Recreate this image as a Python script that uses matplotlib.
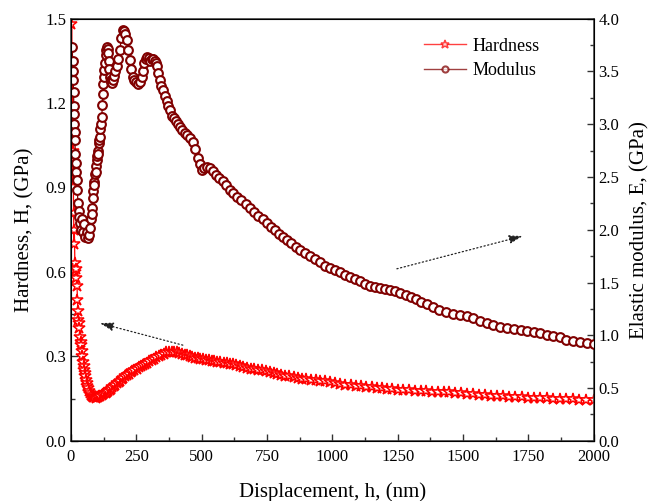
import matplotlib
matplotlib.use("Agg")
import matplotlib.pyplot as plt
from matplotlib.ticker import MultipleLocator

plt.rcParams['font.family'] = ['Liberation Serif', 'DejaVu Serif']

# ---------------- data ----------------
h_H = [1, 2, 3, 4, 5, 6, 7, 8, 9, 10, 12, 13, 15, 17, 19, 21, 23, 25, 27, 28, 30, 32,
       35, 38, 40, 42, 44, 46, 48, 50, 52, 54, 57, 60, 63, 66, 70, 74, 78, 82, 86, 90, 94,
       98, 103, 108, 113, 118, 123, 128, 133, 138, 143, 148, 153, 158, 164, 170, 176, 182,
       188, 194, 200, 207, 214, 221, 228, 235, 243, 251, 259, 267, 275, 283, 291, 300, 309,
       318, 327, 336, 345, 355, 365, 375, 385, 395, 405, 415, 425, 435, 445, 455, 465, 475,
       485, 495, 505, 516, 527, 538, 549, 560, 572, 584, 596, 608, 620, 633, 646, 660, 674,
       688, 702, 716, 730, 745, 760, 775, 790, 805, 820, 836, 852, 868, 884, 900, 918, 936,
       954, 972, 990, 1010, 1030, 1050, 1070, 1090, 1110, 1130, 1150, 1170, 1190, 1210, 1230,
       1250, 1272, 1294, 1316, 1338, 1360, 1382, 1404, 1426, 1448, 1470, 1492, 1515, 1538,
       1561, 1584, 1607, 1630, 1653, 1676, 1700, 1724, 1748, 1772, 1796, 1820, 1845, 1870,
       1895, 1920, 1945, 1972, 2000]
H = [2.00, 1.48, 1.60, 1.19, 1.35, 1.03, 1.10, 0.90, 0.95, 0.81, 0.70, 0.75, 0.63, 0.60,
     0.61, 0.58, 0.55, 0.50, 0.46, 0.43, 0.42, 0.40, 0.37, 0.35, 0.34, 0.32, 0.30, 0.28,
     0.265, 0.25, 0.24, 0.23, 0.215, 0.205, 0.195, 0.187, 0.178, 0.170, 0.164, 0.160, 0.157,
     0.155, 0.153, 0.155, 0.156, 0.158, 0.161, 0.164, 0.166, 0.169, 0.171, 0.173, 0.177,
     0.181, 0.185, 0.190, 0.195, 0.200, 0.205, 0.210, 0.214, 0.219, 0.223, 0.229, 0.234,
     0.238, 0.243, 0.247, 0.252, 0.257, 0.261, 0.265, 0.269, 0.272, 0.276, 0.282, 0.287,
     0.292, 0.297, 0.301, 0.305, 0.310, 0.314, 0.315, 0.316, 0.316, 0.315, 0.312, 0.309,
     0.306, 0.304, 0.301, 0.298, 0.296, 0.294, 0.292, 0.291, 0.289, 0.287, 0.285, 0.283,
     0.281, 0.279, 0.277, 0.276, 0.274, 0.272, 0.269, 0.266, 0.263, 0.260, 0.257, 0.255,
     0.252, 0.250, 0.247, 0.244, 0.241, 0.238, 0.235, 0.232, 0.229, 0.226, 0.223, 0.221,
     0.219, 0.217, 0.215, 0.213, 0.211, 0.209, 0.206, 0.203, 0.200, 0.198, 0.196, 0.194,
     0.192, 0.190, 0.188, 0.187, 0.185, 0.183, 0.181, 0.180, 0.179, 0.178, 0.177, 0.176,
     0.175, 0.174, 0.173, 0.172, 0.171, 0.170, 0.168, 0.166, 0.164, 0.162, 0.161, 0.160,
     0.158, 0.157, 0.156, 0.155, 0.154, 0.153, 0.152, 0.151, 0.150, 0.149, 0.148, 0.147,
     0.146, 0.145, 0.144]

h_E = [5, 6, 7, 8, 10, 11, 12, 13, 14, 15, 17, 18, 20, 22, 24, 27, 30, 32, 35, 38,
       42, 45, 50, 55, 60, 65, 68, 72, 76, 80, 82, 84, 86, 88, 90, 92, 95, 97, 99, 101, 103,
       105, 107, 109, 111, 113, 115, 118, 120, 122, 124, 126, 128, 130, 133, 135, 138, 141,
       143, 145, 147, 149, 152, 155, 158, 161, 165, 170, 176, 181, 187, 193, 199, 203, 208,
       214, 220, 226, 231, 237, 243, 250, 257, 264, 270, 275, 280, 286, 291, 297, 303, 309,
       314, 320, 325, 329, 334, 340, 346, 352, 359, 366, 372, 379, 386, 393, 400, 408, 417,
       426, 435, 445, 456, 467, 476, 486, 494, 501, 510, 520, 531, 543, 555, 568, 581, 594,
       607, 620, 636, 652, 668, 684, 700, 717, 733, 750, 765, 780, 796, 811, 827, 843, 860,
       876, 895, 914, 933, 952, 971, 990, 1010, 1029, 1048, 1067, 1086, 1105, 1124, 1143,
       1162, 1182, 1201, 1220, 1240, 1258, 1280, 1300, 1320, 1340, 1362, 1385, 1410, 1435,
       1460, 1488, 1515, 1540, 1565, 1590, 1615, 1641, 1668, 1695, 1720, 1745, 1770, 1795,
       1820, 1845, 1870, 1895, 1920, 1946, 1973, 2000]
E = [3.73, 3.60, 3.50, 3.42, 3.30, 3.17, 3.10, 3.00, 2.93, 2.85, 2.72,
     2.63, 2.55, 2.47, 2.38, 2.25, 2.18, 2.12, 2.06, 2.00, 2.10, 1.98, 2.05, 1.93, 1.98,
     1.92, 1.95, 2.02, 2.10, 2.21, 2.15, 2.37, 2.30, 2.45, 2.42, 2.53, 2.60, 2.55, 2.66,
     2.70, 2.75, 2.72, 2.82, 2.85, 2.88, 2.95, 3.00, 3.07, 3.18, 3.29, 3.38, 3.45, 3.51,
     3.58, 3.65, 3.70, 3.73, 3.71, 3.67, 3.60, 3.52, 3.45, 3.42, 3.40, 3.39, 3.42, 3.46,
     3.50, 3.55, 3.62, 3.70, 3.82, 3.89, 3.88, 3.85, 3.80, 3.70, 3.61, 3.52, 3.45, 3.42,
     3.40, 3.38, 3.40, 3.45, 3.50, 3.58, 3.62, 3.64, 3.63, 3.60, 3.62, 3.62, 3.60, 3.58,
     3.55, 3.48, 3.42, 3.36, 3.32, 3.27, 3.22, 3.17, 3.13, 3.08, 3.06, 3.03, 3.00, 2.97,
     2.94, 2.92, 2.90, 2.87, 2.83, 2.76, 2.68, 2.62, 2.57, 2.58, 2.59, 2.58, 2.56, 2.52,
     2.49, 2.46, 2.42, 2.38, 2.35, 2.31, 2.28, 2.24, 2.21, 2.17, 2.13, 2.10, 2.06, 2.03,
     2.00, 1.96, 1.93, 1.90, 1.87, 1.84, 1.81, 1.78, 1.75, 1.72, 1.69, 1.66, 1.64, 1.62,
     1.60, 1.57, 1.55, 1.53, 1.51, 1.49, 1.47, 1.46, 1.45, 1.44, 1.43, 1.42, 1.40, 1.38,
     1.36, 1.34, 1.32, 1.30, 1.27, 1.24, 1.22, 1.20, 1.19, 1.18, 1.16, 1.14, 1.12, 1.10,
     1.08, 1.07, 1.06, 1.05, 1.04, 1.03, 1.02, 1.00, 0.99, 0.98, 0.96, 0.95, 0.94, 0.93,
     0.92]

x_ticks = [0, 250, 500, 750, 1000, 1250, 1500, 1750, 2000]
H_ticks = [0.0, 0.3, 0.6, 0.9, 1.2, 1.5]
E_ticks = [0.0, 0.5, 1.0, 1.5, 2.0, 2.5, 3.0, 3.5, 4.0]

c_H = '#ff0000'
c_E = '#800000'

fig = plt.figure(figsize=(6.51, 5.01), dpi=100)
ax = fig.add_axes([0.109, 0.120, 0.803, 0.843])
ax2 = ax.twinx()

lH, = ax.plot(h_H, H, color=c_H, lw=0.9, marker='*', ms=9, mfc='white',
              mec=c_H, mew=1.1, label='Hardness')
lE, = ax2.plot(h_E, E, color=c_E, lw=0.9, marker='o', ms=6.3, mfc='white',
               mec=c_E, mew=1.5, label='Modulus')

ax.set_xlim(0, 2000)
ax.set_ylim(0, 1.5)
ax2.set_ylim(0, 4.0)
ax.set_xticks(x_ticks)
ax.set_yticks(H_ticks)
ax2.set_yticks(E_ticks)
ax.set_xticklabels([f'{v}' for v in x_ticks])
ax.set_yticklabels([f'{v:.1f}' for v in H_ticks])
ax2.set_yticklabels([f'{v:.1f}' for v in E_ticks])
ax.xaxis.set_minor_locator(MultipleLocator(125))
ax.yaxis.set_minor_locator(MultipleLocator(0.15))
ax2.yaxis.set_minor_locator(MultipleLocator(0.25))

for a in (ax, ax2):
    a.tick_params(which='major', direction='in', length=5, width=1.0, labelsize=12,
                  color='#333333')
    a.tick_params(which='minor', direction='in', length=3, width=1.0, color='#333333')
ax.tick_params(axis='x', pad=6)
for sp in ax.spines.values():
    sp.set_linewidth(1.1)
    sp.set_color('#333333')

ax.set_xlabel('Displacement, h, (nm)', fontsize=15, labelpad=12)
ax.set_ylabel('Hardness, H, (GPa)', fontsize=15, labelpad=8)
ax2.set_ylabel('Elastic modulus, E, (GPa)', fontsize=15, labelpad=8)

leg = ax2.legend(handles=[lH, lE], loc='upper left', bbox_to_anchor=(0.652, 0.985),
                 frameon=False, numpoints=1, fontsize=13, handlelength=2.3,
                 handletextpad=0.35, labelspacing=0.42, borderpad=0.2, markerscale=0.7)
for ln in leg.get_lines():
    ln.set_linewidth(1.0)
    ln.set_alpha(0.75)

# dotted arrows
ax.annotate('', xy=(111, 0.418), xytext=(428, 0.34),
            arrowprops=dict(arrowstyle='-|>,head_length=0.8,head_width=0.25',
                            linestyle=(0, (1, 2)), color='#222222', lw=0.9,
                            shrinkA=0, shrinkB=0))
ax2.annotate('', xy=(1728, 1.94), xytext=(1247, 1.63),
             arrowprops=dict(arrowstyle='-|>,head_length=0.8,head_width=0.25',
                             linestyle=(0, (1, 2)), color='#222222', lw=0.9,
                             shrinkA=0, shrinkB=0))

fig.savefig('out.png', dpi=100)
